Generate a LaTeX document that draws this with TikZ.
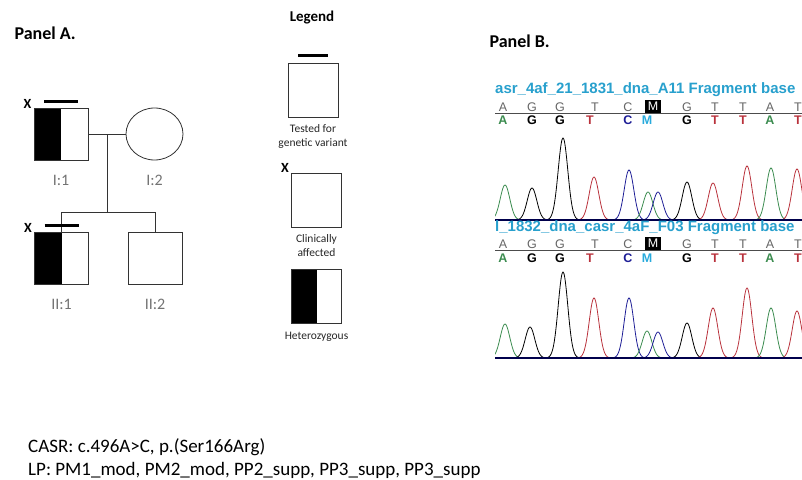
\documentclass[tikz,border=0pt]{standalone}
\usepackage{fontspec}
\setmainfont{Carlito}
\newfontfamily\chromfont{Liberation Sans}
\usetikzlibrary{positioning,shapes.geometric}
\definecolor{titleblue}{RGB}{40,160,205}
\definecolor{peakgreen}{RGB}{60,140,80}
\definecolor{peakred}{RGB}{185,50,60}
\definecolor{peakblue}{RGB}{30,30,150}
\definecolor{basecyan}{RGB}{40,170,220}

\begin{document}
\begin{tikzpicture}[x=1pt,y=-1pt,
    indiv/.style={draw=black!80, line width=0.8pt, fill=white, inner sep=0pt,
      minimum width=54pt, minimum height=52pt},
    hetero/.style={indiv, path picture={\fill[black] (path picture bounding box.north west)
      rectangle (path picture bounding box.south);}},
    legbox/.style={indiv, minimum width=50pt, minimum height=54pt},
    leghet/.style={hetero, minimum width=50pt, minimum height=54pt},
    idlabel/.style={text=black!55, font=\fontsize{16}{18}\selectfont},
    legtext/.style={align=center, text=black!85, font=\fontsize{11.5}{14}\selectfont},
    xmark/.style={font=\bfseries\fontsize{14}{14}\selectfont, inner sep=1pt},
    testbar/.style={line width=2.8pt, black},
    pedline/.style={draw=black!80, line width=0.8pt},
    peak/.style={line width=0.8pt}]
  \useasboundingbox (0,0) rectangle (802,479);

  % panel A: pedigree
  \node[font=\bfseries\fontsize{18}{20}\selectfont, anchor=west] (pA) at (11,33) {Panel A.};
  \node[hetero] (I1) at (61,134) {};
  \node[indiv, ellipse, minimum width=57pt, minimum height=52pt] (I2) at (154.5,134) {};
  \node[hetero] (II1) at (61.5,258) {};
  \node[indiv] (II2) at (155,258) {};
  \node[idlabel, below=11pt of I1] (I1l) {I:1};
  \node[idlabel, below=11pt of I2] (I2l) {I:2};
  \node[idlabel, below=11pt of II1] (II1l) {II:1};
  \node[idlabel, below=11pt of II2] (II2l) {II:2};
  \draw[pedline] (I1.east) -- (I2.west);
  \coordinate (mate) at (107,134);
  \coordinate (sib) at (107,212);
  \draw[pedline] (mate) -- (sib);
  \draw[pedline] (II1.north) -- (II1.north |- sib) -- (II2.north |- sib) -- (II2.north);
  \foreach \p in {I1,II1} {
    \draw[testbar] ([shift={(-17,-6)}]\p.north) -- ([shift={(17,-6)}]\p.north);
    \node[xmark, anchor=south east] at ([shift={(-1,2)}]\p.north west) {X};
  }

  % legend
  \node[font=\bfseries\fontsize{15}{17}\selectfont] (leg) at (312,18) {Legend};
  \node[legbox] (L1) at (313,90) {};
  \draw[testbar] ([shift={(-15,-7)}]L1.north) -- ([shift={(15,-7)}]L1.north);
  \node[legtext, below=4pt of L1] (L1t) {Tested for\\genetic variant};
  \node[legbox] (L2) at (316.5,200) {};
  \node[xmark, anchor=south east] at ([shift={(-1,1)}]L2.north west) {X};
  \node[legtext, below=4pt of L2] (L2t) {Clinically\\affected};
  \node[leghet] (L3) at (316.5,296) {};
  \node[legtext, below=5pt of L3] (L3t) {Heterozygous};

  % panel B: chromatograms
  \node[font=\bfseries\fontsize{18}{20}\selectfont, anchor=west] (pB) at (486,41) {Panel B.};
  \begin{scope}
    \clip (495,80) rectangle (802,365);
    \node[font=\chromfont\bfseries\fontsize{15}{16}\selectfont, text=titleblue,
      anchor=west, inner sep=0pt] (t1) at (495,90) {asr\_4af\_21\_1831\_dna\_A11 Fragment base};
    \foreach \xa/\b in {503/A,532/G,560/G,595/T,628/C,687/G,715/T,743/T,770/A,798/T}
      \node[text=black!60, font=\chromfont\fontsize{12.5}{12}\selectfont, inner sep=0pt] at (\xa,107) {\b};
    \node[fill=black, text=white, font=\chromfont\fontsize{12.5}{12}\selectfont,
      minimum width=16pt, minimum height=13pt, inner sep=0pt] (m1) at (653,106) {M};
    \draw[black!70, line width=0.8pt] (495,113) -- (802,113);
    \foreach \xb/\b/\col in {503/A/peakgreen,532/G/black,560/G/black,590/T/peakred,628/C/peakblue,
        647/M/basecyan,687/G/black,715/T/peakred,743/T/peakred,770/A/peakgreen,798/T/peakred}
      \node[text=\col, font=\chromfont\bfseries\fontsize{12.5}{13}\selectfont, inner sep=0pt] at (\xb,120) {\b};
    \foreach \c/\h/\col [evaluate=\c as \lo using \c-17, evaluate=\c as \hi using \c+17]
        in {505/35/peakgreen,532/32/black,563/82/black,594/43/peakred,
        629/50/peakblue,648/28/peakgreen,658/28/peakblue,687/38/black,713/37/peakred,
        747/54/peakred,771/52/peakgreen,797/51/peakred}
      \draw[\col, peak] plot[domain=\lo:\hi, samples=41, smooth] (\x,{220-\h*exp(-pow((\x-\c)/6.8,2))});
    \draw[black!70!blue, line width=1.3pt] (495,220) -- (802,220);

    \node[font=\chromfont\bfseries\fontsize{15}{16}\selectfont, text=titleblue,
      anchor=west, inner sep=0pt] (t2) at (495,228) {l\_1832\_dna\_casr\_4aF\_F03 Fragment base};
    \foreach \xa/\b in {503/A,532/G,560/G,595/T,628/C,687/G,715/T,743/T,770/A,798/T}
      \node[text=black!60, font=\chromfont\fontsize{12.5}{12}\selectfont, inner sep=0pt] at (\xa,244) {\b};
    \node[fill=black, text=white, font=\chromfont\fontsize{12.5}{12}\selectfont,
      minimum width=16pt, minimum height=13pt, inner sep=0pt] (m2) at (653,243) {M};
    \draw[black!70, line width=0.8pt] (495,250) -- (802,250);
    \foreach \xb/\b/\col in {503/A/peakgreen,532/G/black,560/G/black,590/T/peakred,628/C/peakblue,
        647/M/basecyan,687/G/black,715/T/peakred,743/T/peakred,770/A/peakgreen,798/T/peakred}
      \node[text=\col, font=\chromfont\bfseries\fontsize{12.5}{13}\selectfont, inner sep=0pt] at (\xb,258) {\b};
    \foreach \c/\h/\col [evaluate=\c as \lo using \c-17, evaluate=\c as \hi using \c+17]
        in {505/34/peakgreen,530/31/black,563/86/black,594/60/peakred,
        629/60/peakblue,647/27/peakgreen,658/26/peakblue,687/35/black,713/50/peakred,
        747/70/peakred,771/50/peakgreen,797/47/peakred}
      \draw[\col, peak] plot[domain=\lo:\hi, samples=41, smooth] (\x,{358-\h*exp(-pow((\x-\c)/6.8,2))});
    \draw[black!70!blue, line width=1.3pt] (495,358) -- (802,358);
  \end{scope}

  % variant
  \node[anchor=base west, inner sep=0pt, font=\fontsize{19}{22}\selectfont] (var) at (28,452) {CASR: c.496A>C, p.(Ser166Arg)};
  \node[anchor=base west, inner sep=0pt, font=\fontsize{19}{22}\selectfont] (crit) at (28,475) {LP: PM1\_mod, PM2\_mod, PP2\_supp, PP3\_supp, PP3\_supp};
\end{tikzpicture}
\end{document}
